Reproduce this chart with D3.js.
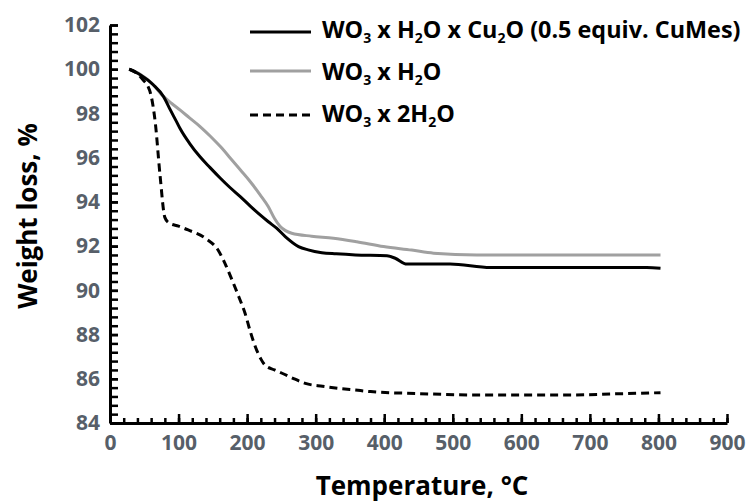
<!DOCTYPE html>
<html>
<head>
<meta charset="utf-8">
<script src="https://cdn.jsdelivr.net/npm/d3@7"></script>
<style>
  html, body { margin: 0; padding: 0; background: #fff; }
  svg { display: block; font-family: "Open Sans", sans-serif; }
</style>
</head>
<body>
<svg id="chart" width="751" height="503"></svg>
<script>
// TGA curves
const tempCu = [28, 44, 63, 78, 88, 97, 102, 116, 131, 146, 161, 175, 190, 205, 219, 231, 243, 256, 275, 289, 309, 330, 358, 404, 416, 433, 496, 555, 650, 783, 803];
const weightCu = [100, 99.75, 99.3, 98.77, 98.16, 97.63, 97.33, 96.65, 96.05, 95.55, 95.07, 94.65, 94.24, 93.8, 93.41, 93.1, 92.81, 92.42, 91.98, 91.83, 91.7, 91.65, 91.6, 91.56, 91.45, 91.19, 91.19, 91.03, 91.03, 91.03, 91.0];

const tempH2O = [28, 45, 60, 78, 90, 102, 116, 131, 146, 161, 175, 190, 205, 219, 231, 240, 248, 256, 265, 294, 326, 360, 399, 440, 472, 535, 650, 803];
const weightH2O = [100, 99.75, 99.4, 98.77, 98.45, 98.16, 97.8, 97.42, 96.98, 96.5, 96.0, 95.45, 94.9, 94.32, 93.78, 93.25, 92.9, 92.7, 92.58, 92.45, 92.36, 92.2, 91.98, 91.82, 91.68, 91.6, 91.6, 91.6];

const temp2H2O = [28, 40, 48, 55, 60, 66, 73, 80, 86, 100, 114, 139, 158, 168, 178, 188, 197, 205, 212, 220, 226, 240, 251, 270, 285, 310, 333, 358, 380, 450, 526, 600, 672, 740, 803];
const weight2H2O = [100, 99.8, 99.52, 99.25, 98.8, 97.6, 95.2, 93.3, 93.05, 92.9, 92.73, 92.36, 91.8, 91.2, 90.47, 89.7, 88.96, 88.1, 87.45, 86.9, 86.62, 86.4, 86.25, 85.98, 85.79, 85.66, 85.57, 85.49, 85.42, 85.33, 85.27, 85.27, 85.27, 85.32, 85.37];

// "_3" means subscript 3
const legendLabels = ["WO_3 x H_2O x Cu_2O (0.5 equiv. CuMes)", "WO_3 x H_2O", "WO_3 x 2H_2O"];
const xTicks = [0, 100, 200, 300, 400, 500, 600, 700, 800, 900];
const yTicks = [84, 86, 88, 90, 92, 94, 96, 98, 100, 102];
const xTitle = "Temperature, °C";
const yTitle = "Weight loss, %";

const svg = d3.select("#chart");
const x = d3.scaleLinear().domain([0, 900]).range([110, 727]);
const y = d3.scaleLinear().domain([84, 102]).range([423, 25]);

const LABEL_COLOR = "#575f69";

// ------------------------------------------------------------------
// axes
// ------------------------------------------------------------------
const xMinor = svg.append("g")
  .attr("transform", `translate(0,${y(84)})`)
  .call(d3.axisBottom(x).tickValues(d3.range(0, 901, 20)).tickSize(-5).tickSizeOuter(0).tickFormat(""));
xMinor.select(".domain").remove();

const yMinor = svg.append("g")
  .attr("transform", `translate(${x(0)},0)`)
  .call(d3.axisLeft(y).tickValues(d3.range(0, 46).map(i => 84 + i * 0.4)).tickSize(-8).tickSizeOuter(0).tickFormat(""));
yMinor.select(".domain").remove();

const xAxis = svg.append("g")
  .attr("transform", `translate(0,${y(84)})`)
  .call(d3.axisBottom(x).tickValues(xTicks).tickSize(-9).tickSizeOuter(0).tickPadding(12));

const yAxis = svg.append("g")
  .attr("transform", `translate(${x(0)},0)`)
  .call(d3.axisLeft(y).tickValues(yTicks).tickSize(-8).tickSizeOuter(0).tickPadding(10));

svg.selectAll(".tick line").attr("stroke", "#000").attr("stroke-width", 2.5);
svg.selectAll(".domain").attr("stroke", "#000").attr("stroke-width", 3);
svg.selectAll(".tick text")
  .attr("font-family", "Open Sans, sans-serif")
  .attr("font-size", 21)
  .attr("font-weight", 700)
  .attr("fill", LABEL_COLOR);

// axis titles
svg.append("text")
  .attr("x", 422).attr("y", 495)
  .attr("text-anchor", "middle")
  .attr("font-size", 26).attr("font-weight", 700)
  .text(xTitle);

svg.append("text")
  .attr("transform", "translate(37,216) rotate(-90)")
  .attr("text-anchor", "middle")
  .attr("font-size", 26).attr("font-weight", 700)
  .text(yTitle);

// ------------------------------------------------------------------
// curves
// ------------------------------------------------------------------
const line = d3.line().x(d => x(d[0])).y(d => y(d[1])).curve(d3.curveMonotoneX);

const series = [
  { t: tempH2O, w: weightH2O, color: "#a0a0a0", dash: null },
  { t: temp2H2O, w: weight2H2O, color: "#000", dash: "8,5" },
  { t: tempCu, w: weightCu, color: "#000", dash: null },
];

svg.append("g").selectAll("path")
  .data(series)
  .join("path")
  .attr("d", s => line(d3.zip(s.t, s.w)))
  .attr("fill", "none")
  .attr("stroke", s => s.color)
  .attr("stroke-width", 3)
  .attr("stroke-dasharray", s => s.dash);

// ------------------------------------------------------------------
// legend
// ------------------------------------------------------------------
const legendStyle = [
  { color: "#000", dash: null, ly: 32, ty: 38 },
  { color: "#a0a0a0", dash: null, ly: 71, ty: 80 },
  { color: "#000", dash: "8,5", ly: 115, ty: 122 },
];

const legend = svg.append("g");
legendLabels.forEach((label, i) => {
  const st = legendStyle[i];
  legend.append("line")
    .attr("x1", 250).attr("x2", 311)
    .attr("y1", st.ly).attr("y2", st.ly)
    .attr("stroke", st.color).attr("stroke-width", 3)
    .attr("stroke-dasharray", st.dash);

  const txt = legend.append("text")
    .attr("x", 322).attr("y", st.ty)
    .attr("font-size", 23.4).attr("font-weight", 700);
  const parts = label.split(/_(\d)/);
  parts.forEach((p, k) => {
    if (!p) return;
    if (k % 2 === 1) {
      txt.append("tspan").attr("font-size", 14).attr("dy", 5).text(p);
    } else {
      txt.append("tspan").attr("dy", k > 0 ? -5 : 0).text(p);
    }
  });
});
</script>
</body>
</html>
